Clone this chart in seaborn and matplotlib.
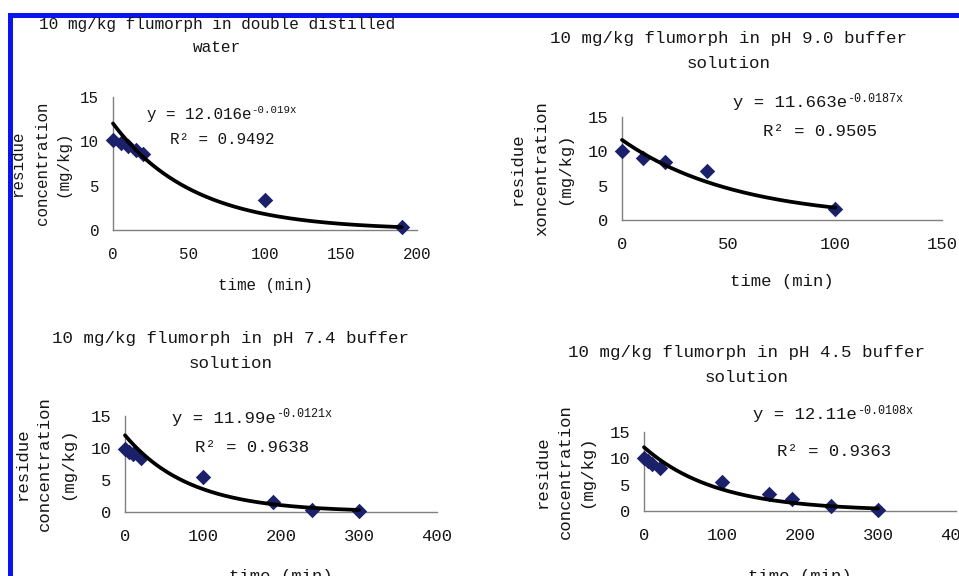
import numpy as np
import pandas as pd
import matplotlib
matplotlib.use("Agg")
import matplotlib.pyplot as plt
import seaborn as sns
from matplotlib.patches import Rectangle

W, H = 959, 576

# Residue measurements (time in min, concentration in mg/kg)
water_t = [0, 5, 10, 15, 20, 100, 190]
water_c = [10.1, 9.8, 9.5, 9.0, 8.6, 3.4, 0.3]
ph90_t = [0, 10, 20, 40, 100]
ph90_c = [10.0, 9.0, 8.5, 7.2, 1.6]
ph74_t = [0, 5, 10, 20, 100, 190, 240, 300]
ph74_c = [9.9, 9.4, 9.0, 8.4, 5.5, 1.5, 0.3, 0.15]
ph45_t = [0, 5, 10, 20, 100, 160, 190, 240, 300]
ph45_c = [10.1, 9.5, 9.0, 8.2, 5.6, 3.3, 2.2, 0.95, 0.15]

# First-order decay fits: C = a * exp(-k t)
fit_a = [12.016, 11.663, 11.99, 12.11]
fit_k = [0.019, 0.0187, 0.0121, 0.0108]
a_labels = ["12.016", "11.663", "11.99", "12.11"]
k_labels = ["-0.019x", "-0.0187x", "-0.0121x", "-0.0108x"]
r2_labels = ["0.9492", "0.9505", "0.9638", "0.9363"]

titles = [
    ["10 mg/kg flumorph in double distilled", "water"],
    ["10 mg/kg flumorph in pH 9.0 buffer", "solution"],
    ["10 mg/kg flumorph in pH 7.4 buffer", "solution"],
    ["10 mg/kg flumorph in pH 4.5 buffer", "solution"],
]
ylabels = [
    ["residue", "concentration", "(mg/kg)"],
    ["residue", "xoncentration", "(mg/kg)"],
    ["residue", "concentration", "(mg/kg)"],
    ["residue", "concentration", "(mg/kg)"],
]
xlabel = "time (min)"
x_ticks = [[0, 50, 100, 150, 200], [0, 50, 100, 150],
           [0, 100, 200, 300, 400], [0, 100, 200, 300, 400]]
y_ticks = [0, 5, 10, 15]

series = [(water_t, water_c), (ph90_t, ph90_c), (ph74_t, ph74_c), (ph45_t, ph45_c)]

# panel geometry in pixels
panels = [
    dict(ax=(113, 417, 97, 230), title=(217, 25, 47), ylab=(18, 42, 63), xlab=285,
         eq=(147, 114), r2=(170, 140), fs=11.4),
    dict(ax=(622, 942, 117, 220), title=(729, 38, 63), ylab=(517, 542, 565), xlab=282,
         eq=(733, 103), r2=(763, 131), fs=12.4),
    dict(ax=(125, 437, 416, 512), title=(231, 338, 363), ylab=(22, 44, 68), xlab=576,
         eq=(172, 418), r2=(195, 447), fs=12.4),
    dict(ax=(644, 956, 432, 511), title=(747, 353, 378), ylab=(542, 565, 587), xlab=576,
         eq=(753, 415), r2=(777, 452), fs=12.4),
]

sns.set_theme(style="white")
plt.rcParams["font.family"] = ["Liberation Mono", "DejaVu Sans"]
TXT = "#161616"
SPINE = "#808080"
MARK = "#1b206b"

fig = plt.figure(figsize=(W / 100, H / 100), dpi=100)
fig.patch.set_facecolor("white")


def fx(x):
    return x / W


def fy(y):
    return 1 - y / H


for i, p in enumerate(panels):
    l, r, t, b = p["ax"]
    fs = p["fs"]
    ax = fig.add_axes([fx(l), fy(b), (r - l) / W, (b - t) / H])
    ax.set_facecolor("white")

    tt, cc = series[i]
    df = pd.DataFrame({"t": tt, "c": cc})
    tf = np.linspace(0, max(tt), 300)
    curve = pd.DataFrame({"t": tf, "c": fit_a[i] * np.exp(-fit_k[i] * tf)})

    sns.scatterplot(data=df, x="t", y="c", ax=ax, marker="D", s=62, color=MARK,
                    edgecolor=MARK, linewidth=0, zorder=3, clip_on=False)
    sns.lineplot(data=curve, x="t", y="c", ax=ax, color="black", linewidth=2.7,
                 zorder=4, clip_on=False)

    ax.set_xlim(x_ticks[i][0], x_ticks[i][-1])
    ax.set_ylim(0, 15)
    ax.set_xticks(x_ticks[i])
    ax.set_yticks(y_ticks)
    ax.set_xlabel("")
    ax.set_ylabel("")
    for s in ["top", "right"]:
        ax.spines[s].set_visible(False)
    for s in ["left", "bottom"]:
        ax.spines[s].set_color(SPINE)
        ax.spines[s].set_linewidth(1.0)
    ax.tick_params(axis="both", direction="in", length=4, width=1, color=SPINE,
                   labelsize=fs, labelcolor=TXT)
    ax.tick_params(axis="x", pad=12)
    ax.tick_params(axis="y", pad=10)
    ax.spines["bottom"].set_zorder(1)

    # titles
    tx, ty1, ty2 = p["title"]
    fig.text(fx(tx), fy(ty1), titles[i][0], ha="center", va="center", fontsize=fs + 0.2, color=TXT)
    fig.text(fx(tx), fy(ty2), titles[i][1], ha="center", va="center", fontsize=fs + 0.2, color=TXT)

    # stacked y-axis label
    yc = (t + b) / 2
    for xl, line in zip(p["ylab"], ylabels[i]):
        fig.text(fx(xl), fy(yc), line, rotation=90, ha="center", va="center",
                 fontsize=fs, color=TXT)

    # x-axis label
    fig.text(fx((l + r) / 2), fy(p["xlab"]), xlabel, ha="center", va="center",
             fontsize=fs, color=TXT)

    # fit equation and R²
    ex, ey = p["eq"]
    eq = fig.text(fx(ex), fy(ey), f"y = {a_labels[i]}e", ha="left", va="center",
                  fontsize=fs, color=TXT)
    ax.annotate(k_labels[i], xy=(1.0, 0.78), xycoords=eq, ha="left", va="center",
                fontsize=fs * 0.68, color=TXT, annotation_clip=False)
    rx, ry = p["r2"]
    fig.text(fx(rx), fy(ry), f"R\u00b2 = {r2_labels[i]}", ha="left", va="center",
             fontsize=fs, color=TXT)

# blue frame along the top and left edges
fig.patches.append(Rectangle((fx(8), fy(18)), 1 - fx(8), 5 / H, transform=fig.transFigure,
                             facecolor="#0a14f0", edgecolor="none", zorder=0))
fig.patches.append(Rectangle((fx(8), 0), 4.5 / W, fy(13), transform=fig.transFigure,
                             facecolor="#0a14f0", edgecolor="none", zorder=0))

fig.savefig("out.png", dpi=100, facecolor="white")
